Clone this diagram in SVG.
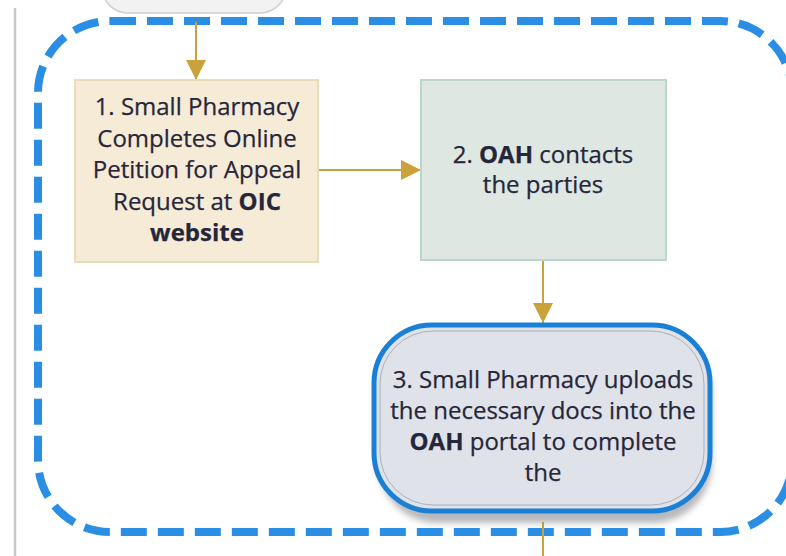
<svg xmlns="http://www.w3.org/2000/svg" width="786" height="556" viewBox="0 0 786 556">
<style>
.t{font-family:"Open Sans","Noto Sans","Liberation Sans",sans-serif;font-size:24px;fill:#26263a;text-anchor:middle;stroke:#26263a;stroke-width:0.25}
.b{font-weight:bold}
.conn{stroke:#c9a23c;stroke-width:2;fill:none}
</style>
<defs>
<marker id="ah" viewBox="0 0 20 20" refX="20" refY="10" markerWidth="20" markerHeight="20" markerUnits="userSpaceOnUse" orient="auto">
<path d="M0,0 L20,10 L0,20 z" fill="#c9a23c"/>
</marker>
<filter id="sh" x="-20%" y="-20%" width="140%" height="150%">
<feGaussianBlur stdDeviation="3"/>
</filter>
</defs>
<rect width="786" height="556" fill="#ffffff"/>
<line x1="15" y1="8" x2="15" y2="556" stroke="#c6cac8" stroke-width="2.5"/>
<g id="node0">
<rect x="102" y="-45" width="184" height="58" rx="26" fill="#f1f2f1" stroke="#cdd1cf" stroke-width="1.5"/>
</g>
<g id="group">
<rect x="38" y="21" width="754" height="511" rx="72" fill="none" stroke="#2a8fe4" stroke-width="8" stroke-dasharray="26 11"/>
</g>
<g id="connectors">
<line class="conn" x1="196" y1="22" x2="196" y2="80" marker-end="url(#ah)"/>
<line class="conn" x1="318" y1="170" x2="421" y2="170" marker-end="url(#ah)"/>
<line class="conn" x1="543" y1="260" x2="543" y2="323" marker-end="url(#ah)"/>
<line class="conn" x1="543" y1="522" x2="543" y2="556"/>
</g>
<g id="node1">
<rect x="75" y="80" width="243" height="182" fill="#f6ebd7" stroke="#eadbb9" stroke-width="2"/>
<text class="t" x="197" y="115">1. Small Pharmacy</text>
<text class="t" x="197" y="147">Completes Online</text>
<text class="t" x="197" y="178">Petition for Appeal</text>
<text class="t" x="197" y="210">Request at <tspan class="b">OIC</tspan></text>
<text class="t b" x="197" y="241">website</text>
</g>
<g id="node2">
<rect x="421" y="80" width="245" height="180" fill="#dee7e2" stroke="#bcd6cb" stroke-width="2"/>
<text class="t" x="543" y="163">2. <tspan class="b">OAH</tspan> contacts</text>
<text class="t" x="543" y="193">the parties</text>
</g>
<g id="node3">
<rect x="378" y="333" width="334" height="190" rx="60" fill="#7c7f84" opacity="0.55" filter="url(#sh)"/>
<rect x="374" y="325" width="336" height="186" rx="58" fill="#dfe2e8" stroke="#1a80d6" stroke-width="5"/>
<rect x="380" y="331" width="324" height="174" rx="53" fill="none" stroke="#8a8d92" stroke-width="1" opacity="0.6"/>
<text class="t" x="543" y="388">3. Small Pharmacy uploads</text>
<text class="t" x="543" y="419">the necessary docs into the</text>
<text class="t" x="543" y="450"><tspan class="b">OAH</tspan> portal to complete</text>
<text class="t" x="543" y="481">the</text>
</g>
</svg>
